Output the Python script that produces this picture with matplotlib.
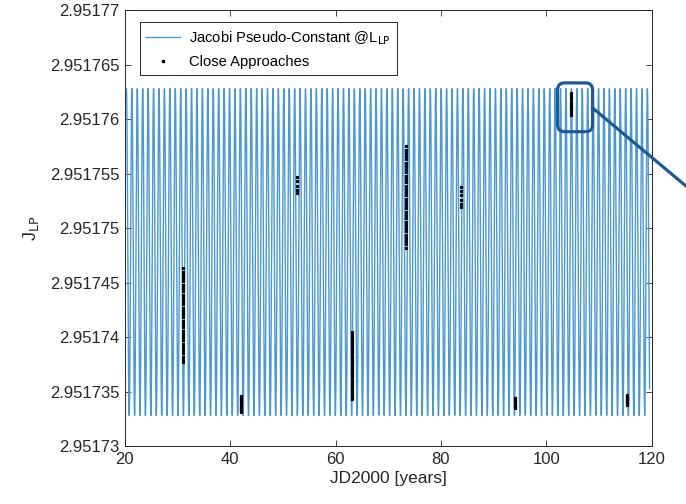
import numpy as np
import matplotlib
matplotlib.use("Agg")
import matplotlib.pyplot as plt
from matplotlib.patches import FancyBboxPatch
from matplotlib.lines import Line2D
from matplotlib.transforms import IdentityTransform
from matplotlib.ticker import FuncFormatter

plt.rcParams['font.family'] = ['Liberation Sans', 'DejaVu Sans']

# Jacobi pseudo-constant oscillation
t_start, t_end = 20.3, 119.6
j_max = 2.9517628
j_min = 2.9517328
period = 1.03   # years per oscillation

# Close approaches: epoch [years] and J offsets in units of 1e-7 above 2.95173
j_base = 2.95173
ca_years = [31.0, 42.0, 52.6, 63.1, 73.3, 83.8, 94.0, 104.6, 115.3]
ca_offsets = [
    [163, 160, 157, 154, 151, 148, 145, 142, 139, 136, 133, 130, 127, 124, 121,
     118, 115, 112, 109, 106, 103, 100, 97, 94, 91, 88, 85, 82, 79, 77],
    [46, 45, 44, 43, 42, 41, 40, 39, 38, 37, 36, 35, 34, 33, 32, 31],
    [247, 243, 239, 235, 232],
    [105, 103, 101, 99, 97, 95, 93, 91, 89, 87, 85, 83, 81, 79, 77, 75, 73, 71,
     69, 67, 65, 63, 61, 59, 57, 55, 53, 51, 49, 47, 45, 43],
    [275, 272, 269, 266, 263, 260, 257, 254, 251, 248, 245, 242, 239, 236, 233,
     230, 227, 224, 221, 218, 215, 212, 209, 206, 203, 200, 197, 194, 191, 188,
     185, 182],
    [238, 234, 230, 226, 222, 219],
    [44, 43, 42, 41, 40, 39, 38, 37, 36, 35],
    [324, 322, 320, 318, 316, 314, 312, 310, 308, 306, 304],
    [47, 46, 45, 44, 43, 42, 41, 40, 39, 38],
]
highlight = 7   # cluster boxed in the picture

fig = plt.figure(figsize=(6.86, 5.04), dpi=100)
ax = fig.add_axes([0.182, 0.115, 0.768, 0.865])

# oscillating Jacobi curve
t = np.linspace(t_start, t_end, 6000)
mid = 0.5 * (j_max + j_min)
amp = 0.5 * (j_max - j_min)
j = mid + amp * np.cos(2 * np.pi * (t - t_start) / period)
ax.plot(t, j, color='#4a98d2', lw=1.0,
        label=r'Jacobi Pseudo-Constant @L$_{\mathrm{LP}}$')

# close approaches
ca_x, ca_y = [], []
for yr, offs in zip(ca_years, ca_offsets):
    for o in offs:
        ca_x.append(yr)
        ca_y.append(j_base + o * 1e-7)
ax.plot(ca_x, ca_y, ls='none', marker='s', ms=1.3, color='k', mec='k',
        label='Close Approaches')

ax.set_xlim(20, 120)
ax.set_ylim(2.95173, 2.95177)
ax.set_xticks([20, 40, 60, 80, 100, 120])
ax.set_yticks(np.arange(2.95173, 2.9517701, 0.000005))
ax.yaxis.set_major_formatter(FuncFormatter(lambda v, _: f'{v:.7g}'))
ax.tick_params(direction='in', length=4, width=0.6, top=True, right=True,
               labelsize=12, colors='#262626', pad=4)
for s in ax.spines.values():
    s.set_color('#262626')
    s.set_linewidth(0.7)
ax.set_xlabel('JD2000 [years]', fontsize=12.5, color='#262626', labelpad=3)
ax.set_ylabel(r'J$_{\mathrm{LP}}$', fontsize=13, color='#262626', labelpad=6)

leg = ax.legend(loc='upper left', bbox_to_anchor=(0.028, 0.972), borderaxespad=0,
                fontsize=10.6, fancybox=False, framealpha=1, edgecolor='#262626',
                handlelength=2.3, handletextpad=0.6, markerscale=1.3,
                borderpad=0.45, labelspacing=0.55)
leg.get_frame().set_linewidth(0.7)

# highlight box around one close approach cluster
fig.canvas.draw()
hx = ca_years[highlight]
hy = [j_base + o * 1e-7 for o in ca_offsets[highlight]]
p_lo = ax.transData.transform((hx, min(hy)))
p_hi = ax.transData.transform((hx, max(hy)))
x0 = p_lo[0] - 13
x1 = p_lo[0] + 22
y0 = p_lo[1] - 17
y1 = p_hi[1] + 10
box = FancyBboxPatch((x0, y0), x1 - x0, y1 - y0,
                     boxstyle='round,pad=0,rounding_size=7',
                     transform=IdentityTransform(), fill=False,
                     ec='#1f5a94', lw=2.3, zorder=5, clip_on=False)
fig.patches.append(box)
ly = y1 - 25
arrow = Line2D([x1, x1 + 110], [ly, ly - 92], transform=IdentityTransform(),
               color='#1f5a94', lw=2.3, clip_on=False)
fig.lines.append(arrow)

fig.savefig('out.png', dpi=100)
